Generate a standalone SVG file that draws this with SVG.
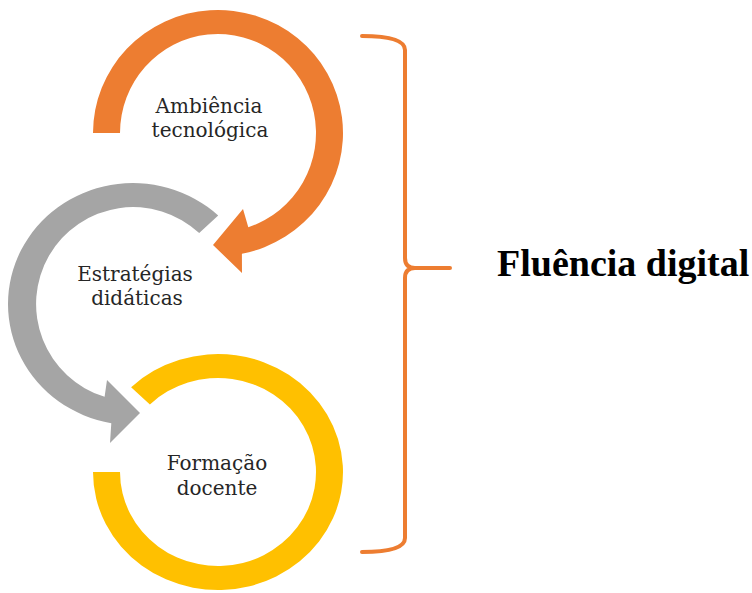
<svg xmlns="http://www.w3.org/2000/svg" width="752" height="593" viewBox="0 0 752 593">
  <style>
    .lbl { font-family: "DejaVu Serif", "Liberation Serif", serif; font-size: 20px; fill: #262626; text-anchor: middle; }
    .title { font-family: "Liberation Serif", "Times New Roman", serif; font-size: 38px; font-weight: bold; fill: #000; }
    .brace { fill: none; stroke: #ED7D31; stroke-width: 4; stroke-linecap: round; stroke-linejoin: round; }
  </style>
  <rect width="752" height="593" fill="#ffffff"/>
  <g id="connectors">
    <path id="arrow-orange" fill="#ED7D31" d="M 93 133 A 125 123 0 1 1 241.9 253.7 L 242 273 L 213 245 L 243 209 L 248.3 227.2 A 98 99 0 1 0 120 133 Z"/>
    <path id="arrow-gray" fill="#A5A5A5" d="M 218.2 215.5 A 125 121 0 1 0 111.3 423.2 L 110 443 L 140 413 L 107 380 L 104.6 396.8 A 97 97 0 1 1 199.2 233.1 Z"/>
    <path id="ring-yellow" fill="#FFC000" d="M 131.1 387.2 A 125 118 0 1 1 93 472 L 120 472 A 98 94 0 1 0 149.9 404.4 Z"/>
    <path id="brace" class="brace" d="M 362 36 Q 405 36 405 50 L 405 258 Q 405 268 415 268 L 450 268 M 415 268 Q 405 268 405 278 L 405 538 Q 405 552 362 552"/>
  </g>
  <g id="node-ambiencia">
    <text class="lbl" x="209" y="113">Ambiência</text>
    <text class="lbl" x="210" y="137">tecnológica</text>
  </g>
  <g id="node-estrategias">
    <text class="lbl" x="135" y="281">Estratégias</text>
    <text class="lbl" x="137" y="305">didáticas</text>
  </g>
  <g id="node-formacao">
    <text class="lbl" x="217" y="470">Formação</text>
    <text class="lbl" x="217" y="495">docente</text>
  </g>
  <g id="node-fluencia">
    <text class="title" x="497" y="276">Fluência digital</text>
  </g>
</svg>
